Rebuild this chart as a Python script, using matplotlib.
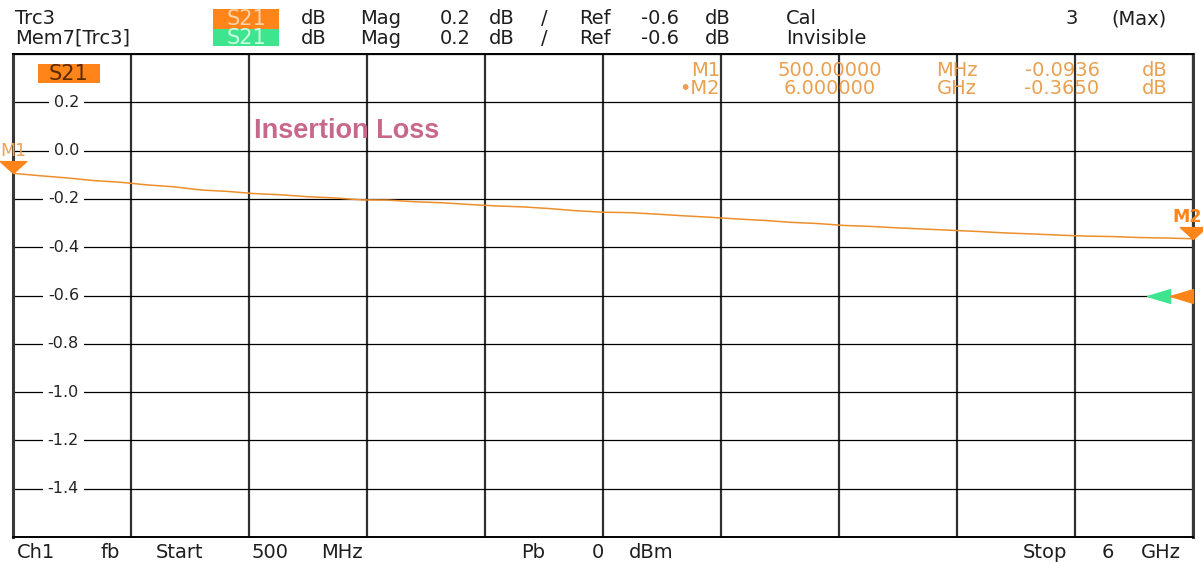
import numpy as np
import matplotlib
matplotlib.use('Agg')
import matplotlib.pyplot as plt
from matplotlib.patches import Rectangle

W, H = 1203, 563

# trace (GHz, dB)
freq_ghz = [0.5, 0.625, 0.75, 0.875, 1.0, 1.125, 1.25, 1.375, 1.5, 1.625, 1.75, 1.875,
            2.0, 2.125, 2.25, 2.375, 2.5, 2.625, 2.75, 2.875, 3.0, 3.125, 3.25, 3.375,
            3.5, 3.625, 3.75, 3.875, 4.0, 4.125, 4.25, 4.375, 4.5, 4.625, 4.75, 4.875,
            5.0, 5.125, 5.25, 5.375, 5.5, 5.625, 5.75, 5.875, 6.0]
s21_db = [-0.094, -0.104, -0.113, -0.124, -0.131, -0.142, -0.150, -0.163, -0.169, -0.178,
          -0.183, -0.191, -0.196, -0.204, -0.205, -0.212, -0.216, -0.223, -0.229, -0.233,
          -0.240, -0.249, -0.255, -0.257, -0.263, -0.270, -0.276, -0.283, -0.289, -0.297,
          -0.302, -0.310, -0.314, -0.320, -0.325, -0.330, -0.335, -0.341, -0.345, -0.350,
          -0.354, -0.356, -0.360, -0.362, -0.365]

start_ghz, stop_ghz = 0.5, 6.0
ref_level = -0.6
db_per_div = 0.2
y_ticks = [0.2, 0.0, -0.2, -0.4, -0.6, -0.8, -1.0, -1.2, -1.4]
y_tick_labels = ['0.2', '0.0', '-0.2', '-0.4', '-0.6', '-0.8', '-1.0', '-1.2', '-1.4']
marker_names = ['M1', 'M2']
marker_freq = [0.5, 6.0]
marker_val = [-0.0936, -0.3650]
marker_freq_txt = [('500.00000', 'MHz'), ('6.000000', 'GHz')]
marker_val_txt = ['-0.0936', '-0.3650']

ORANGE = '#ff8419'
TRACE = '#ee8e2c'
GREEN = '#3ee58e'
TXT = '#1e1e1e'
MK_TXT = '#e9a050'

plt.rcParams['font.family'] = ['DejaVu Sans']


def fp(x, y):
    return x / W, 1 - y / H


def put(x, y, s, ha='center', size=14, color=TXT, **kw):
    fig.text(*fp(x, y), s, fontsize=size, color=color, ha=ha, va='center', **kw)


def box(x0, y0, x1, y1, color):
    fig.patches.append(Rectangle(fp(x0, y1), (x1 - x0) / W, (y1 - y0) / H,
                                 transform=fig.transFigure, fc=color, ec='none', zorder=2))


fig = plt.figure(figsize=(W / 100, H / 100), dpi=100)
ax = fig.add_axes([13 / W, (H - 537) / H, 1180 / W, 483 / H])
ax.set_xlim(start_ghz, stop_ghz)
ax.set_ylim(ref_level - 5 * db_per_div, ref_level + 5 * db_per_div)
ax.set_xticks(np.linspace(start_ghz, stop_ghz, 11))
ax.set_yticks(np.linspace(ref_level - 5 * db_per_div, ref_level + 5 * db_per_div, 11))
ax.tick_params(length=0, labelbottom=False, labelleft=False)
ax.xaxis.grid(True, color='#303030', lw=1.6)
ax.yaxis.grid(True, color='black', lw=0.9)
ax.set_axisbelow(True)
for s in ['left', 'right']:
    ax.spines[s].set_color('#383838')
    ax.spines[s].set_linewidth(2.2)
for s in ['top', 'bottom']:
    ax.spines[s].set_linewidth(1.4)

# y labels sit inside the grid with a white patch behind them
for v, lab in zip(y_ticks, y_tick_labels):
    ax.annotate(lab, xy=(start_ghz, v), xytext=(66, 0), textcoords='offset pixels',
                ha='right', va='center', fontsize=11.5, color='#222222',
                bbox=dict(boxstyle='square,pad=0.3', fc='white', ec='none'))

ax.plot(freq_ghz, s21_db, color=TRACE, lw=1.1, zorder=4)

# marker triangles, tip on the trace
tri_down = [(0, 0), (-1, 0.9), (1, 0.9), (0, 0)]
for i, (name, f, v) in enumerate(zip(marker_names, marker_freq, marker_val)):
    ax.plot(f, v, marker=tri_down, ms=19, color=ORANGE, mec=ORANGE, clip_on=False, zorder=5)
    ax.annotate(name, xy=(f, v), xytext=(-6 if i else 0, 22), textcoords='offset pixels',
                ha='center', va='center', fontsize=12.5, color=ORANGE if i else '#f0a050',
                fontweight='bold' if i else 'normal', annotation_clip=False)

# reference level arrows on the right edge
tri_left = [(0, -0.3), (0, 0.3), (-1, 0), (0, -0.3)]
tri_left2 = [(-1, -0.3), (-1, 0.3), (-2, 0), (-1, -0.3)]
ax.plot(stop_ghz, ref_level, marker=tri_left2, ms=66, color=GREEN, mec=GREEN, clip_on=False, zorder=5)
ax.plot(stop_ghz, ref_level, marker=tri_left, ms=33, color=ORANGE, mec=ORANGE, clip_on=False, zorder=5)

# S21 tag in the plot
box(38, 64, 100, 83, ORANGE)
put(69, 74, 'S21', size=15, color='#5a2a00', zorder=3)

put(254, 131, 'Insertion Loss', ha='left', size=19.5, fontweight='bold',
    family='Liberation Sans', color='#c8678a')

# marker readout
for i in range(len(marker_names)):
    y = 70 + i * 19
    put(720, y, marker_names[i] if i == 0 else '\u2022' + marker_names[i], ha='right', color=MK_TXT)
    put(830, y, marker_freq_txt[i][0], color=MK_TXT)
    put(957, y, marker_freq_txt[i][1], color=MK_TXT)
    put(1062, y, marker_val_txt[i], color=MK_TXT)
    put(1155, y, 'dB', color=MK_TXT)

# header
put(15, 19, 'Trc3', ha='left')
put(15, 38, 'Mem7[Trc3]', ha='left')
box(213, 9, 279, 29, ORANGE)
box(213, 29, 279, 46, GREEN)
put(246, 19, 'S21', size=15, color='#ffd2a8', zorder=3)
put(246, 38, 'S21', size=15, color='#c8ffe2', zorder=3)
for y in (19, 38):
    put(314, y, 'dB')
    put(381, y, 'Mag')
    put(455, y, '0.2')
    put(502, y, 'dB')
    put(544, y, '/')
    put(595, y, 'Ref')
    put(660, y, '-0.6')
    put(718, y, 'dB')
put(786, 19, 'Cal', ha='left')
put(786, 38, 'Invisible', ha='left')
put(1072, 19, '3')
put(1139, 19, '(Max)')

# footer
put(17, 552, 'Ch1', ha='left')
put(110, 552, 'fb')
put(180, 552, 'Start')
put(270, 552, '500')
put(342, 552, 'MHz')
put(533, 552, 'Pb')
put(598, 552, '0')
put(651, 552, 'dBm')
put(1045, 552, 'Stop')
put(1108, 552, '6')
put(1161, 552, 'GHz')

fig.savefig('out.png', dpi=100)
